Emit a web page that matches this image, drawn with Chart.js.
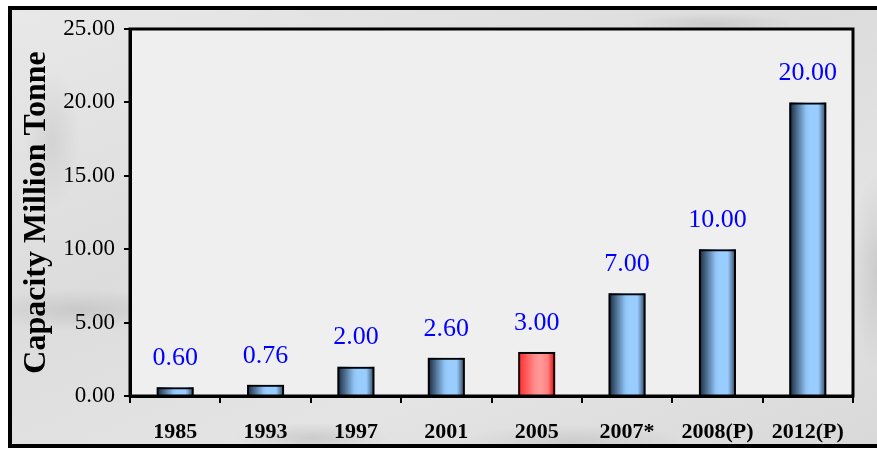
<!DOCTYPE html>
<html>
<head>
<meta charset="utf-8">
<script src="https://cdn.jsdelivr.net/npm/chart.js@4.4.0/dist/chart.umd.min.js"></script>
<style>
  html, body { margin: 0; padding: 0; background: #ffffff; overflow: hidden; }
  #wrap { position: relative; width: 877px; height: 450px; }
  #frame {
    position: absolute; left: 8px; top: 6px; width: 900px; height: 442px;
    box-sizing: border-box; border: 4px solid #000;
    background:
      radial-gradient(ellipse 140px 30px at 70px 300px, rgba(130,130,130,0.22), rgba(130,130,130,0) 70%),
      radial-gradient(ellipse 110px 22px at 300px 428px, rgba(120,120,120,0.22), rgba(120,120,120,0) 70%),
      radial-gradient(ellipse 160px 25px at 560px 432px, rgba(130,130,130,0.2), rgba(130,130,130,0) 70%),
      radial-gradient(ellipse 40px 140px at 866px 260px, rgba(120,120,120,0.22), rgba(120,120,120,0) 70%),
      radial-gradient(ellipse 120px 16px at 700px 14px, rgba(130,130,130,0.2), rgba(130,130,130,0) 70%),
      radial-gradient(ellipse 40px 100px at 40px 130px, rgba(150,150,150,0.2), rgba(150,150,150,0) 70%),
      linear-gradient(160deg, #e8e8e8 0%, #dcdcdc 40%, #e4e4e4 70%, #d8d8d8 100%);
  }
  canvas { position: absolute; left: 0; top: 0; }
</style>
</head>
<body>
<div id="wrap">
  <div id="frame"></div>
  <canvas id="c" width="877" height="450"></canvas>
</div>
<script>
const categories = ['1985', '1993', '1997', '2001', '2005', '2007*', '2008(P)', '2012(P)'];
const capacity = [0.60, 0.76, 2.00, 2.60, 3.00, 7.00, 10.00, 20.00];
const barKinds = ['blue', 'blue', 'blue', 'blue', 'red', 'blue', 'blue', 'blue'];
const yTicks = [0, 5, 10, 15, 20, 25];
const yTitle = 'Capacity Million Tonne';

const SERIF = '"Liberation Serif", "Times New Roman", serif';

const gradientStops = {
  blue: [[0, '#16263a'], [0.45, '#8fc3f5'], [0.55, '#99ccff'], [0.78, '#99ccff'], [1, '#2a4058']],
  red:  [[0, '#ff2a2a'], [0.45, '#ff8c8c'], [0.6, '#ff9a9a'], [0.8, '#ff8080'], [1, '#e00000']]
};

const decoPlugin = {
  id: 'deco',
  beforeDraw(chart) {
    const { ctx, chartArea: a } = chart;
    ctx.save();
    ctx.fillStyle = '#efefef';
    ctx.fillRect(a.left, a.top, a.right - a.left, a.bottom - a.top);
    ctx.restore();
  },
  beforeDatasetsDraw(chart) {
    const { ctx } = chart;
    const meta = chart.getDatasetMeta(0);
    ctx.save();
    meta.data.forEach((el, i) => {
      const x0 = el.x - el.width / 2;
      const g = ctx.createLinearGradient(x0, 0, x0 + el.width, 0);
      gradientStops[barKinds[i]].forEach(s => g.addColorStop(s[0], s[1]));
      ctx.fillStyle = g;
      ctx.fillRect(x0, el.y, el.width, el.base - el.y);
    });
    ctx.restore();
  },
  afterDatasetsDraw(chart) {
    const { ctx } = chart;
    const meta = chart.getDatasetMeta(0);
    ctx.save();
    ctx.fillStyle = '#0000ff';
    ctx.font = '26px ' + SERIF;
    ctx.textAlign = 'center';
    ctx.textBaseline = 'middle';
    meta.data.forEach((el, i) => {
      ctx.fillText(capacity[i].toFixed(2), el.x, el.y - 29);
    });
    ctx.restore();
  },
  afterDraw(chart) {
    const { ctx, chartArea: a } = chart;
    ctx.save();
    ctx.strokeStyle = '#000';
    ctx.lineWidth = 3;
    ctx.strokeRect(a.left, a.top, a.right - a.left, a.bottom - a.top);
    ctx.restore();
  }
};

new Chart(document.getElementById('c'), {
  type: 'bar',
  data: {
    labels: categories,
    datasets: [{
      data: capacity,
      backgroundColor: 'rgba(0,0,0,0)',
      borderColor: '#000',
      borderWidth: 2,
      barPercentage: 0.41,
      categoryPercentage: 1
    }]
  },
  options: {
    responsive: false,
    devicePixelRatio: 1,
    animation: false,
    layout: { padding: { left: 18, right: 24, top: 29, bottom: 0 } },
    plugins: { legend: { display: false }, tooltip: { enabled: false } },
    scales: {
      x: {
        afterFit(scale) { scale.height = 54; },
        grid: { offset: true, drawOnChartArea: false, tickLength: 7, color: '#000', lineWidth: 2 },
        border: { display: true, color: '#000', width: 3 },
        ticks: { color: '#000', padding: 16, font: { family: SERIF, size: 22, weight: 'bold' }, maxRotation: 0 }
      },
      y: {
        min: 0, max: 25,
        afterFit(scale) { scale.width = 112; },
        afterBuildTicks(scale) { scale.ticks = yTicks.map(v => ({ value: v })); },
        grid: { drawOnChartArea: false, tickLength: 6, color: '#000', lineWidth: 2 },
        border: { display: true, color: '#000', width: 3 },
        ticks: { color: '#000', padding: 9, font: { family: SERIF, size: 23 }, callback: v => Number(v).toFixed(2) },
        title: { display: true, text: yTitle, color: '#000', padding: { top: 0, bottom: 0 }, font: { family: SERIF, size: 32, weight: 'bold' } }
      }
    }
  },
  plugins: [decoPlugin]
});
</script>
</body>
</html>
